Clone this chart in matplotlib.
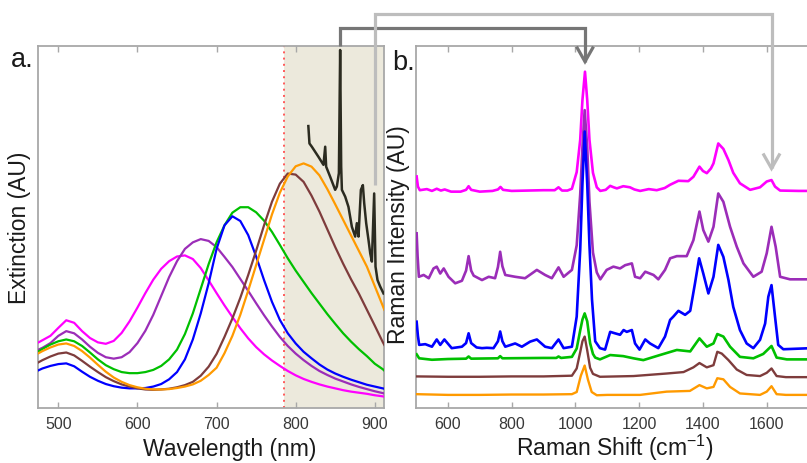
import matplotlib
matplotlib.use("Agg")
import matplotlib.pyplot as plt
from matplotlib.lines import Line2D

plt.rcParams['font.family'] = ['Liberation Sans', 'DejaVu Sans']
plt.rcParams['mathtext.fontset'] = 'custom'
plt.rcParams['mathtext.rm'] = 'Liberation Sans'

# ---------------- extinction spectra (panel a) ----------------
wavelength = [475, 480, 490, 500, 510, 520, 530, 540, 550, 560, 570, 580, 590, 600,
              610, 620, 630, 640, 650, 660, 670, 680, 690, 700, 710, 720, 730, 740,
              750, 760, 770, 780, 790, 800, 810, 820, 830, 840, 850, 860, 870, 880,
              890, 900, 910, 912]

ext_magenta = [0.182, 0.188, 0.200, 0.222, 0.243, 0.236, 0.213, 0.194, 0.182, 0.178,
               0.186, 0.208, 0.240, 0.278, 0.318, 0.355, 0.385, 0.406, 0.419, 0.422,
               0.412, 0.387, 0.353, 0.318, 0.284, 0.252, 0.221, 0.193, 0.169, 0.149,
               0.132, 0.117, 0.103, 0.091, 0.081, 0.073, 0.066, 0.060, 0.055, 0.050,
               0.046, 0.043, 0.040, 0.036, 0.033, 0.032]
ext_purple = [0.162, 0.167, 0.180, 0.200, 0.213, 0.207, 0.190, 0.170, 0.153, 0.141,
              0.137, 0.141, 0.155, 0.180, 0.214, 0.258, 0.310, 0.362, 0.406, 0.440,
              0.458, 0.467, 0.462, 0.445, 0.418, 0.390, 0.357, 0.324, 0.290, 0.257,
              0.226, 0.197, 0.172, 0.151, 0.133, 0.117, 0.103, 0.092, 0.082, 0.074,
              0.066, 0.059, 0.053, 0.047, 0.042, 0.041]
ext_blue = [0.105, 0.110, 0.117, 0.122, 0.124, 0.116, 0.101, 0.087, 0.076, 0.067,
            0.061, 0.057, 0.055, 0.055, 0.056, 0.060, 0.067, 0.080, 0.100, 0.135,
            0.190, 0.262, 0.345, 0.440, 0.505, 0.530, 0.517, 0.478, 0.419, 0.354,
            0.294, 0.244, 0.207, 0.179, 0.156, 0.138, 0.121, 0.107, 0.096, 0.087,
            0.079, 0.072, 0.065, 0.060, 0.055, 0.054]
ext_green = [0.157, 0.164, 0.176, 0.185, 0.190, 0.185, 0.172, 0.154, 0.135, 0.119,
             0.108, 0.100, 0.097, 0.097, 0.100, 0.106, 0.117, 0.135, 0.162, 0.205,
             0.262, 0.330, 0.398, 0.458, 0.505, 0.540, 0.555, 0.555, 0.541, 0.518,
             0.487, 0.451, 0.414, 0.380, 0.349, 0.318, 0.289, 0.260, 0.233, 0.207,
             0.184, 0.163, 0.144, 0.123, 0.108, 0.104]
ext_brown = [0.127, 0.133, 0.143, 0.151, 0.154, 0.146, 0.131, 0.115, 0.100, 0.086,
             0.075, 0.066, 0.060, 0.055, 0.052, 0.051, 0.052, 0.054, 0.058, 0.064,
             0.073, 0.090, 0.115, 0.150, 0.197, 0.248, 0.305, 0.368, 0.435, 0.505,
             0.570, 0.620, 0.648, 0.645, 0.625, 0.587, 0.543, 0.494, 0.445, 0.399,
             0.356, 0.316, 0.272, 0.228, 0.183, 0.175]
ext_orange = [0.152, 0.158, 0.168, 0.176, 0.179, 0.172, 0.158, 0.140, 0.120, 0.101,
              0.085, 0.073, 0.064, 0.058, 0.054, 0.052, 0.052, 0.053, 0.056, 0.060,
              0.066, 0.076, 0.092, 0.112, 0.152, 0.200, 0.258, 0.325, 0.395, 0.465,
              0.535, 0.595, 0.640, 0.668, 0.676, 0.667, 0.643, 0.605, 0.563, 0.520,
              0.477, 0.434, 0.391, 0.337, 0.283, 0.272]

# Raman scattering excitation spectrum
exc_wavelength = [816.0, 817.4, 820.4, 824.6, 828.8, 835.1, 837.3, 838.5, 843.6, 849.9,
                  852.0, 854.6, 856.2, 857.5, 858.4, 862.6, 866.7, 871.0, 875.2, 877.3,
                  879.4, 882.4, 884.9, 886.6, 889.1, 892.0, 894.2, 896.3, 899.2, 900.9,
                  903.4, 906.8, 911.0]
exc_signal = [0.779, 0.731, 0.722, 0.708, 0.694, 0.672, 0.722, 0.667, 0.639, 0.603,
              0.612, 0.649, 0.989, 0.667, 0.603, 0.584, 0.556, 0.501, 0.474, 0.511,
              0.474, 0.603, 0.616, 0.566, 0.511, 0.465, 0.428, 0.405, 0.593, 0.391,
              0.354, 0.336, 0.317]

laser_nm = 785

# ---------------- Raman spectra (panel b) ----------------
shift_magenta = [502, 506, 512, 534, 550, 565, 578, 590, 610, 640, 657, 665, 673, 700,
                 740, 757, 765, 773, 800, 850, 900, 935, 947, 958, 975, 989, 1004, 1015,
                 1022, 1030, 1037, 1044, 1055, 1067, 1078, 1095, 1109, 1120, 1130, 1150,
                 1171, 1185, 1203, 1230, 1255, 1280, 1297, 1323, 1354, 1370, 1389, 1400,
                 1412, 1425, 1433, 1448, 1464, 1480, 1495, 1516, 1548, 1579, 1600, 1615,
                 1626, 1642, 1700, 1740]
raman_magenta = [0.640, 0.612, 0.602, 0.605, 0.600, 0.606, 0.601, 0.604, 0.598, 0.598,
                 0.603, 0.613, 0.603, 0.598, 0.600, 0.604, 0.611, 0.603, 0.600, 0.601,
                 0.602, 0.602, 0.610, 0.601, 0.601, 0.606, 0.652, 0.741, 0.851, 0.929,
                 0.851, 0.741, 0.650, 0.610, 0.600, 0.603, 0.614, 0.610, 0.607, 0.613,
                 0.610, 0.604, 0.600, 0.605, 0.602, 0.608, 0.617, 0.628, 0.627, 0.639,
                 0.667, 0.655, 0.649, 0.662, 0.676, 0.731, 0.716, 0.685, 0.650, 0.621,
                 0.603, 0.610, 0.626, 0.630, 0.612, 0.601, 0.600, 0.600]

shift_purple = [502, 505, 509, 524, 540, 555, 565, 576, 587, 602, 623, 644, 657, 665,
                673, 681, 707, 728, 748, 757, 764, 771, 780, 811, 842, 863, 879, 905,
                926, 947, 963, 989, 1004, 1015, 1022, 1029, 1037, 1044, 1055, 1067, 1078,
                1098, 1119, 1140, 1156, 1177, 1187, 1203, 1219, 1245, 1260, 1281, 1297,
                1318, 1349, 1370, 1389, 1401, 1417, 1433, 1448, 1464, 1485, 1506, 1527,
                1558, 1584, 1600, 1615, 1628, 1642, 1673, 1740]
raman_purple = [0.483, 0.420, 0.363, 0.368, 0.359, 0.386, 0.391, 0.372, 0.386, 0.363,
                0.345, 0.352, 0.380, 0.420, 0.380, 0.366, 0.354, 0.363, 0.359, 0.390,
                0.432, 0.392, 0.368, 0.363, 0.359, 0.372, 0.382, 0.368, 0.359, 0.389,
                0.363, 0.382, 0.450, 0.590, 0.720, 0.823, 0.720, 0.570, 0.430, 0.375,
                0.356, 0.382, 0.391, 0.386, 0.395, 0.400, 0.363, 0.359, 0.377, 0.368,
                0.356, 0.382, 0.414, 0.420, 0.420, 0.464, 0.543, 0.492, 0.460, 0.501,
                0.593, 0.570, 0.501, 0.446, 0.400, 0.363, 0.377, 0.428, 0.501, 0.446,
                0.363, 0.356, 0.356]

shift_blue = [502, 506, 510, 529, 550, 565, 576, 589, 612, 644, 657, 665, 673, 690, 707,
              722, 743, 757, 764, 771, 780, 811, 832, 858, 879, 905, 926, 947, 963, 989,
              1004, 1015, 1022, 1029, 1037, 1044, 1052, 1062, 1077, 1093, 1109, 1124,
              1140, 1151, 1161, 1177, 1187, 1201, 1219, 1234, 1260, 1281, 1297, 1307,
              1323, 1344, 1360, 1375, 1388, 1401, 1417, 1433, 1448, 1464, 1480, 1495,
              1516, 1537, 1558, 1579, 1595, 1605, 1615, 1626, 1636, 1652, 1740]
raman_blue = [0.239, 0.200, 0.175, 0.177, 0.170, 0.190, 0.175, 0.190, 0.166, 0.170,
              0.180, 0.207, 0.180, 0.168, 0.166, 0.167, 0.166, 0.185, 0.212, 0.185,
              0.170, 0.179, 0.170, 0.184, 0.190, 0.170, 0.166, 0.190, 0.166, 0.170,
              0.253, 0.437, 0.620, 0.764, 0.620, 0.450, 0.300, 0.185, 0.166, 0.162,
              0.211, 0.207, 0.203, 0.216, 0.211, 0.216, 0.179, 0.162, 0.190, 0.179,
              0.166, 0.198, 0.244, 0.253, 0.269, 0.258, 0.269, 0.345, 0.414, 0.372,
              0.317, 0.363, 0.451, 0.418, 0.354, 0.280, 0.216, 0.179, 0.166, 0.189,
              0.234, 0.308, 0.340, 0.253, 0.175, 0.163, 0.166]

shift_green = [502, 510, 550, 600, 657, 665, 673, 757, 764, 771, 900, 940, 947, 955, 989,
               1004, 1015, 1022, 1029, 1037, 1046, 1055, 1062, 1077, 1109, 1150, 1182,
               1213, 1265, 1318, 1360, 1389, 1412, 1433, 1445, 1464, 1485, 1516, 1558,
               1589, 1615, 1631, 1663, 1740]
raman_green = [0.149, 0.138, 0.134, 0.136, 0.137, 0.143, 0.137, 0.138, 0.144, 0.138,
               0.139, 0.139, 0.143, 0.139, 0.142, 0.165, 0.215, 0.245, 0.262, 0.240,
               0.180, 0.150, 0.140, 0.135, 0.147, 0.144, 0.138, 0.133, 0.147, 0.161,
               0.157, 0.193, 0.170, 0.179, 0.205, 0.198, 0.170, 0.142, 0.138, 0.150,
               0.172, 0.140, 0.135, 0.135]

shift_brown = [502, 600, 700, 800, 900, 989, 1004, 1015, 1022, 1029, 1037, 1046, 1055,
               1077, 1182, 1286, 1339, 1370, 1389, 1412, 1433, 1445, 1459, 1480, 1506,
               1537, 1579, 1600, 1615, 1631, 1660, 1740]
raman_brown = [0.088, 0.087, 0.087, 0.088, 0.088, 0.090, 0.110, 0.155, 0.185, 0.198,
               0.160, 0.112, 0.095, 0.087, 0.089, 0.096, 0.100, 0.113, 0.125, 0.113,
               0.119, 0.156, 0.151, 0.133, 0.107, 0.092, 0.089, 0.098, 0.110, 0.089,
               0.086, 0.086]

shift_orange = [502, 600, 700, 800, 900, 989, 1004, 1017, 1029, 1039, 1051, 1067, 1100,
                1203, 1286, 1359, 1389, 1412, 1433, 1445, 1464, 1485, 1516, 1579, 1600,
                1615, 1631, 1660, 1740]
raman_orange = [0.039, 0.037, 0.037, 0.038, 0.038, 0.039, 0.045, 0.090, 0.118, 0.080,
                0.045, 0.036, 0.037, 0.037, 0.046, 0.048, 0.064, 0.055, 0.059, 0.083,
                0.080, 0.059, 0.041, 0.037, 0.046, 0.061, 0.039, 0.037, 0.037]

# peaks linked between the two panels
link_dark = (856, 1030)    # excitation-spectrum line -> 1030 cm-1 band
link_light = (900, 1615)   # 900 nm -> 1615 cm-1 band

C_MAG, C_PUR, C_BLU = '#FF00FF', '#9B2DB8', '#0000FF'
C_GRN, C_BRN, C_ORG = '#00C000', '#7E3C3C', '#FF9A00'
FRAME = '#A8A8A8'
TXT = '#1A1A1A'

W, H = 807, 463
fig = plt.figure(figsize=(W / 100, H / 100), dpi=100)
ax_a = fig.add_axes([38 / W, 1 - 408.3 / H, 346.3 / W, 362.3 / H])
ax_b = fig.add_axes([416 / W, 1 - 408.3 / H, 414.5 / W, 362.3 / H])


def style(ax):
    for s in ax.spines.values():
        s.set_color(FRAME)
        s.set_linewidth(1.3)
    ax.tick_params(axis='x', direction='in', top=True, bottom=True, length=4,
                   width=1, color=FRAME, labelsize=11.5, labelcolor='#383838', pad=6)
    ax.set_yticks([])
    ax.set_ylim(0, 1)


# panel a
ax_a.axvspan(laser_nm, 912, color='#ECE9DC', zorder=0, lw=0)
ax_a.axvline(laser_nm, color='#FF5A5A', lw=1.4, ls=(0, (1, 2.2)), zorder=1)
for y, c in [(ext_magenta, C_MAG), (ext_purple, C_PUR), (ext_green, C_GRN),
             (ext_blue, C_BLU), (ext_brown, C_BRN), (ext_orange, C_ORG)]:
    ax_a.plot(wavelength, y, color=c, lw=1.6, zorder=3)
ax_a.plot(exc_wavelength, exc_signal, color='#2B2B20', lw=1.8, zorder=4)
ax_a.set_xlim(474.3, 912)
ax_a.set_xticks([500, 600, 700, 800, 900])
style(ax_a)

# panel b
for x, y, c, lw in [(shift_magenta, raman_magenta, C_MAG, 1.9),
                    (shift_purple, raman_purple, C_PUR, 1.9),
                    (shift_blue, raman_blue, C_BLU, 1.9),
                    (shift_green, raman_green, C_GRN, 1.9),
                    (shift_brown, raman_brown, C_BRN, 1.7),
                    (shift_orange, raman_orange, C_ORG, 1.7)]:
    ax_b.plot(x, y, color=c, lw=lw, zorder=3)
ax_b.set_xlim(500, 1800)
ax_b.set_xticks([600, 800, 1000, 1200, 1400, 1600])
style(ax_b)

# axis titles and panel letters (figure pixel positions)
def ftext(x, y, s, **kw):
    return fig.text(x / W, 1 - y / H, s, color=TXT, **kw)


ftext(230, 456, 'Wavelength (nm)', fontsize=16.5, ha='center', va='baseline')
ftext(615, 456, r'Raman Shift (cm$^{\mathregular{-1}}$)', fontsize=16.5,
      ha='center', va='baseline')
ftext(20, 227.5, 'Extinction (AU)', fontsize=16.5, rotation=90, ha='center', va='center')
ftext(398, 234.5, 'Raman Intensity (AU)', fontsize=16.5, rotation=90,
      ha='center', va='center')
ftext(11, 67, 'a.', fontsize=19.5, va='baseline')
ftext(392, 70, 'b.', fontsize=19.5, va='baseline')

# connector arrows (figure pixel space, y measured from the top)
fig.canvas.draw()


def to_px(ax, x, y):
    X, Y = ax.transData.transform((x, y))
    return X, H - Y


def add_link(xa, ya, xb, yb, level, color):
    x0, y0 = to_px(ax_a, xa, ya)
    x1, y1 = to_px(ax_b, xb, yb)
    pts = [(x0, y0), (x0, level), (x1, level), (x1, y1)]
    fig.add_artist(Line2D([p[0] / W for p in pts], [1 - p[1] / H for p in pts],
                          color=color, lw=2.3, solid_joinstyle='miter',
                          solid_capstyle='butt', zorder=10))
    head = [(x1 - 8.5, y1 - 15), (x1, y1), (x1 + 8.5, y1 - 15)]
    fig.add_artist(Line2D([p[0] / W for p in head], [1 - p[1] / H for p in head],
                          color=color, lw=2.3, solid_joinstyle='miter',
                          solid_capstyle='butt', zorder=10))


add_link(link_dark[0], 1.0, link_dark[1], 0.957, 28, '#767676')
add_link(link_light[0], 0.616, link_light[1], 0.662, 14, '#BDBDBD')

fig.savefig('out.png', dpi=100)
